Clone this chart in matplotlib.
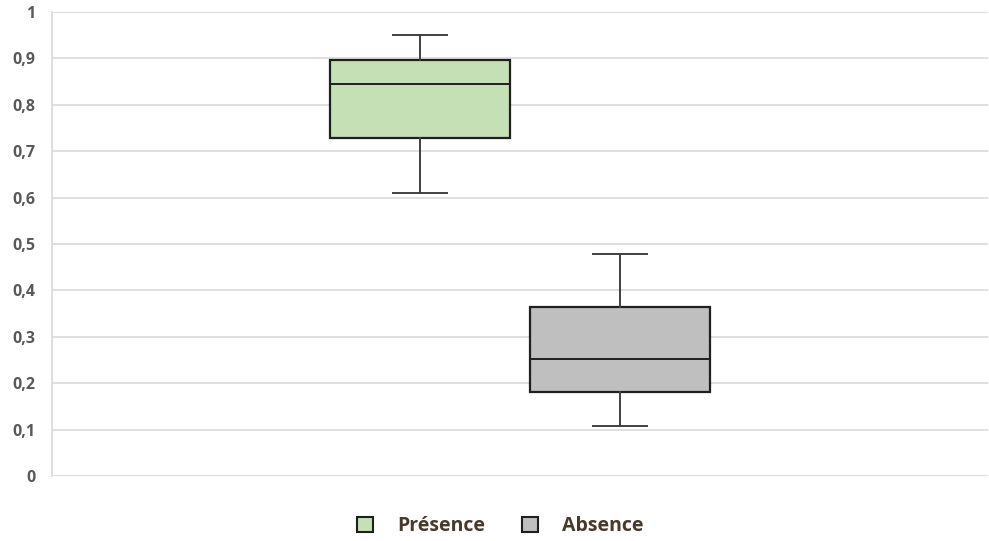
import matplotlib
matplotlib.use("Agg")
import matplotlib.pyplot as plt
from matplotlib.patches import Patch

# data
series = ["Présence", "Absence"]
whislo = [0.610, 0.108]
q1 = [0.728, 0.181]
med = [0.845, 0.252]
q3 = [0.897, 0.364]
whishi = [0.950, 0.478]
colors = ["#c5e0b4", "#bfbfbf"]
yticks = [0, 0.1, 0.2, 0.3, 0.4, 0.5, 0.6, 0.7, 0.8, 0.9, 1]
ylabels = ["0", "0,1", "0,2", "0,3", "0,4", "0,5", "0,6", "0,7", "0,8", "0,9", "1"]

plt.rcParams['font.family'] = ['Open Sans', 'DejaVu Sans']

W, H = 989, 541
fig = plt.figure(figsize=(W / 100, H / 100), dpi=100)
ax = fig.add_axes([52 / W, 1 - 476 / H, 936 / W, 464 / H])

stats = []
for i in range(len(series)):
    stats.append(dict(label=series[i], whislo=whislo[i], q1=q1[i], med=med[i],
                      q3=q3[i], whishi=whishi[i], fliers=[]))

positions = [0.393, 0.607]
bp = ax.bxp(stats, positions=positions, widths=0.193, capwidths=0.057,
            patch_artist=True, showfliers=False, manage_ticks=False,
            boxprops=dict(edgecolor="#1f1f1f", linewidth=1.6),
            medianprops=dict(color="#1f1f1f", linewidth=1.4),
            whiskerprops=dict(color="#404040", linewidth=1.4),
            capprops=dict(color="#404040", linewidth=1.4))
for patch, c in zip(bp["boxes"], colors):
    patch.set_facecolor(c)
    patch.set_zorder(3)
for k in ["medians", "whiskers", "caps"]:
    for l in bp[k]:
        l.set_zorder(4)

ax.set_xlim(0, 1)
ax.set_ylim(0, 1)
ax.set_yticks(yticks)
ax.set_yticklabels(ylabels, fontsize=11.5, fontweight="bold", color="#595959")
ax.set_xticks([])
ax.tick_params(axis="y", length=0, pad=12)
ax.grid(axis="y", color="#d9d9d9", linewidth=1.2, zorder=0)
ax.set_axisbelow(True)
for s in ["top", "right", "bottom"]:
    ax.spines[s].set_visible(False)
ax.spines["left"].set_color("#d9d9d9")
ax.spines["left"].set_linewidth(1.2)

handles = [Patch(facecolor=c, edgecolor="#1f1f1f", linewidth=1.5) for c in colors]
fig.legend(handles, series, loc="center", bbox_to_anchor=(500 / W, 1 - 526 / H),
           ncol=2, frameon=False, handlelength=0.85, handleheight=0.85,
           handletextpad=1.2, columnspacing=1.9,
           prop=dict(family=['Open Sans', 'DejaVu Sans'], weight="bold", size=14))
for t in fig.legends[0].get_texts():
    t.set_color("#473a2c")

fig.savefig("out.png", dpi=100)
